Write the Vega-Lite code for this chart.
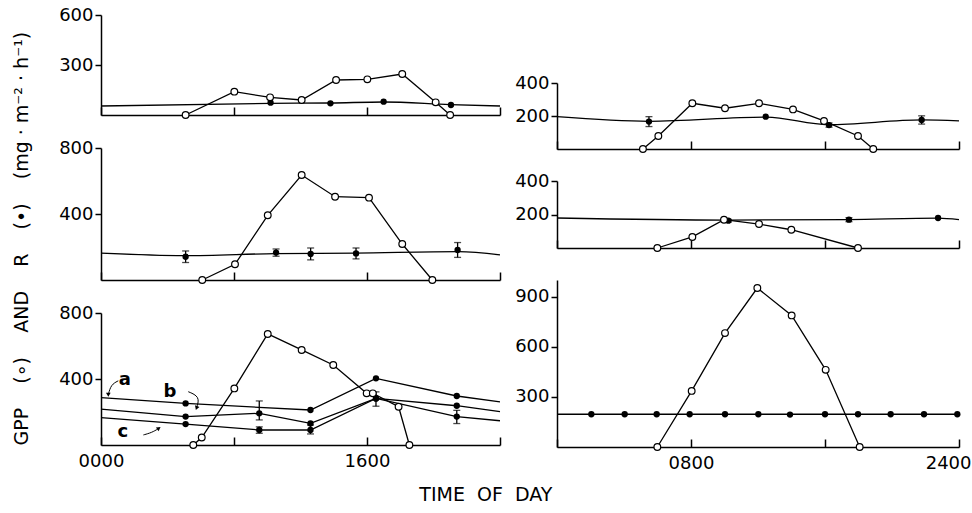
{
  "$schema": "https://vega.github.io/schema/vega-lite/v6.json",
  "padding": {"left": 12, "top": 6, "right": 0, "bottom": 8},
  "spacing": 11,
  "title": {"text": "TIME\u00a0\u00a0OF\u00a0\u00a0DAY", "orient": "bottom", "anchor": "middle", "frame": "bounds", "fontSize": 19, "fontWeight": "normal", "font": "DejaVu Sans", "color": "black", "offset": 14, "dx": -6},
  "resolve": {"scale": {"x": "independent", "y": "independent"}},
  "datasets": {
    "gpp": [
      {"p": "I", "h": 5.09, "v": 0}, {"p": "I", "h": 8.02, "v": 140}, {"p": "I", "h": 10.17, "v": 106}, {"p": "I", "h": 12.07, "v": 90}, {"p": "I", "h": 14.14, "v": 210}, {"p": "I", "h": 16.02, "v": 214}, {"p": "I", "h": 18.12, "v": 246}, {"p": "I", "h": 20.13, "v": 76}, {"p": "I", "h": 21.0, "v": 0},
      {"p": "II", "h": 6.09, "v": 0}, {"p": "II", "h": 8.06, "v": 95}, {"p": "II", "h": 10.03, "v": 392}, {"p": "II", "h": 12.07, "v": 636}, {"p": "II", "h": 14.08, "v": 505}, {"p": "II", "h": 16.12, "v": 499}, {"p": "II", "h": 18.12, "v": 218}, {"p": "II", "h": 19.93, "v": 0},
      {"p": "III", "h": 5.55, "v": 0}, {"p": "III", "h": 6.06, "v": 45}, {"p": "III", "h": 8.02, "v": 343}, {"p": "III", "h": 10.03, "v": 673}, {"p": "III", "h": 12.07, "v": 576}, {"p": "III", "h": 13.97, "v": 485}, {"p": "III", "h": 15.98, "v": 313}, {"p": "III", "h": 16.35, "v": 313}, {"p": "III", "h": 17.9, "v": 232}, {"p": "III", "h": 18.55, "v": 0},
      {"p": "IV", "h": 5.13, "v": 0}, {"p": "IV", "h": 6.05, "v": 79}, {"p": "IV", "h": 8.08, "v": 277}, {"p": "IV", "h": 10.03, "v": 247}, {"p": "IV", "h": 12.06, "v": 277}, {"p": "IV", "h": 14.09, "v": 240}, {"p": "IV", "h": 15.94, "v": 170}, {"p": "IV", "h": 17.97, "v": 79}, {"p": "IV", "h": 18.88, "v": 0},
      {"p": "V", "h": 5.99, "v": 0}, {"p": "V", "h": 8.08, "v": 66}, {"p": "V", "h": 9.97, "v": 169}, {"p": "V", "h": 12.06, "v": 143}, {"p": "V", "h": 13.99, "v": 109}, {"p": "V", "h": 17.97, "v": 0},
      {"p": "VII", "h": 5.99, "v": 0}, {"p": "VII", "h": 8.04, "v": 336}, {"p": "VII", "h": 10.03, "v": 682}, {"p": "VII", "h": 11.96, "v": 952}, {"p": "VII", "h": 14.01, "v": 788}, {"p": "VII", "h": 16.04, "v": 462}, {"p": "VII", "h": 18.07, "v": 0}
    ],
    "rpt": [
      {"p": "I", "s": "r", "h": 10.2, "v": 74, "lo": null, "hi": null}, {"p": "I", "s": "r", "h": 13.8, "v": 70, "lo": null, "hi": null}, {"p": "I", "s": "r", "h": 17.0, "v": 80, "lo": null, "hi": null}, {"p": "I", "s": "r", "h": 21.05, "v": 60, "lo": null, "hi": null},
      {"p": "II", "s": "r", "h": 5.09, "v": 141, "lo": 106, "hi": 176}, {"p": "II", "s": "r", "h": 10.53, "v": 166, "lo": 144, "hi": 188}, {"p": "II", "s": "r", "h": 12.61, "v": 158, "lo": 122, "hi": 194}, {"p": "II", "s": "r", "h": 15.34, "v": 161, "lo": 128, "hi": 194}, {"p": "II", "s": "r", "h": 21.45, "v": 182, "lo": 137, "hi": 227},
      {"p": "III", "s": "a", "h": 5.09, "v": 252, "lo": null, "hi": null}, {"p": "III", "s": "a", "h": 12.6, "v": 212, "lo": null, "hi": null}, {"p": "III", "s": "a", "h": 16.54, "v": 404, "lo": null, "hi": null}, {"p": "III", "s": "a", "h": 21.4, "v": 297, "lo": null, "hi": null},
      {"p": "III", "s": "b", "h": 5.09, "v": 172, "lo": null, "hi": null}, {"p": "III", "s": "b", "h": 9.52, "v": 192, "lo": 152, "hi": 267}, {"p": "III", "s": "b", "h": 12.6, "v": 131, "lo": null, "hi": null}, {"p": "III", "s": "b", "h": 16.54, "v": 282, "lo": 235, "hi": 322}, {"p": "III", "s": "b", "h": 21.4, "v": 238, "lo": null, "hi": null},
      {"p": "III", "s": "c", "h": 5.09, "v": 127, "lo": null, "hi": null}, {"p": "III", "s": "c", "h": 9.52, "v": 91, "lo": 71, "hi": 110}, {"p": "III", "s": "c", "h": 12.6, "v": 91, "lo": 67, "hi": 121}, {"p": "III", "s": "c", "h": 16.54, "v": 282, "lo": null, "hi": null}, {"p": "III", "s": "c", "h": 21.4, "v": 172, "lo": 130, "hi": 210},
      {"p": "IV", "s": "r", "h": 5.49, "v": 166, "lo": 136, "hi": 196}, {"p": "IV", "s": "r", "h": 12.46, "v": 196, "lo": null, "hi": null}, {"p": "IV", "s": "r", "h": 16.24, "v": 145, "lo": 132, "hi": 158}, {"p": "IV", "s": "r", "h": 21.77, "v": 176, "lo": 151, "hi": 201},
      {"p": "V", "s": "r", "h": 10.23, "v": 163, "lo": 155, "hi": 171}, {"p": "V", "s": "r", "h": 17.43, "v": 169, "lo": 157, "hi": 181}, {"p": "V", "s": "r", "h": 22.75, "v": 179, "lo": null, "hi": null},
      {"p": "VII", "s": "r", "h": 2.05, "v": 196, "lo": null, "hi": null}, {"p": "VII", "s": "r", "h": 4.04, "v": 196, "lo": null, "hi": null}, {"p": "VII", "s": "r", "h": 5.95, "v": 196, "lo": null, "hi": null}, {"p": "VII", "s": "r", "h": 7.92, "v": 196, "lo": null, "hi": null}, {"p": "VII", "s": "r", "h": 10.03, "v": 196, "lo": null, "hi": null}, {"p": "VII", "s": "r", "h": 12.02, "v": 196, "lo": null, "hi": null}, {"p": "VII", "s": "r", "h": 13.91, "v": 194, "lo": null, "hi": null}, {"p": "VII", "s": "r", "h": 16.0, "v": 196, "lo": null, "hi": null}, {"p": "VII", "s": "r", "h": 17.97, "v": 196, "lo": null, "hi": null}, {"p": "VII", "s": "r", "h": 19.92, "v": 196, "lo": null, "hi": null}, {"p": "VII", "s": "r", "h": 21.91, "v": 196, "lo": null, "hi": null}, {"p": "VII", "s": "r", "h": 23.9, "v": 196, "lo": null, "hi": null}
    ],
    "rfit": [
      {"p": "I", "s": "r", "h": 0, "v": 54}, {"p": "I", "s": "r", "h": 10.2, "v": 70}, {"p": "I", "s": "r", "h": 13.8, "v": 72}, {"p": "I", "s": "r", "h": 17, "v": 78}, {"p": "I", "s": "r", "h": 21, "v": 62}, {"p": "I", "s": "r", "h": 24, "v": 54},
      {"p": "II", "s": "r", "h": 0, "v": 163}, {"p": "II", "s": "r", "h": 5, "v": 148}, {"p": "II", "s": "r", "h": 10.5, "v": 160}, {"p": "II", "s": "r", "h": 15.3, "v": 163}, {"p": "II", "s": "r", "h": 21.5, "v": 172}, {"p": "II", "s": "r", "h": 24, "v": 152},
      {"p": "III", "s": "a", "h": 0, "v": 287}, {"p": "III", "s": "a", "h": 5.09, "v": 252}, {"p": "III", "s": "a", "h": 12.6, "v": 212}, {"p": "III", "s": "a", "h": 16.54, "v": 404}, {"p": "III", "s": "a", "h": 21.4, "v": 297}, {"p": "III", "s": "a", "h": 24, "v": 262},
      {"p": "III", "s": "b", "h": 0, "v": 218}, {"p": "III", "s": "b", "h": 5.09, "v": 172}, {"p": "III", "s": "b", "h": 9.52, "v": 192}, {"p": "III", "s": "b", "h": 12.6, "v": 131}, {"p": "III", "s": "b", "h": 16.54, "v": 282}, {"p": "III", "s": "b", "h": 21.4, "v": 238}, {"p": "III", "s": "b", "h": 24, "v": 202},
      {"p": "III", "s": "c", "h": 0, "v": 166}, {"p": "III", "s": "c", "h": 5.09, "v": 127}, {"p": "III", "s": "c", "h": 9.52, "v": 91}, {"p": "III", "s": "c", "h": 12.6, "v": 91}, {"p": "III", "s": "c", "h": 16.54, "v": 282}, {"p": "III", "s": "c", "h": 21.4, "v": 172}, {"p": "III", "s": "c", "h": 24, "v": 147},
      {"p": "IV", "s": "r", "h": 0, "v": 196}, {"p": "IV", "s": "r", "h": 5.5, "v": 168}, {"p": "IV", "s": "r", "h": 12.5, "v": 193}, {"p": "IV", "s": "r", "h": 16.2, "v": 147}, {"p": "IV", "s": "r", "h": 21.8, "v": 176}, {"p": "IV", "s": "r", "h": 24, "v": 170},
      {"p": "V", "s": "r", "h": 0, "v": 179}, {"p": "V", "s": "r", "h": 10.2, "v": 167}, {"p": "V", "s": "r", "h": 17.4, "v": 170}, {"p": "V", "s": "r", "h": 22.75, "v": 178}, {"p": "V", "s": "r", "h": 24, "v": 169},
      {"p": "VII", "s": "r", "h": 0, "v": 196}, {"p": "VII", "s": "r", "h": 24, "v": 196}
    ],
    "note": [
      {"t": "a", "h": 1.44, "v": 394}, {"t": "b", "h": 4.15, "v": 321}, {"t": "c", "h": 1.32, "v": 79}
    ],
    "arrow": [
      {"s": "a", "k": 1, "h": 1.04, "v": 389}, {"s": "a", "k": 2, "h": 0.6, "v": 366}, {"s": "a", "k": 3, "h": 0.44, "v": 305},
      {"s": "b", "k": 1, "h": 5.25, "v": 323}, {"s": "b", "k": 2, "h": 5.95, "v": 293}, {"s": "b", "k": 3, "h": 5.76, "v": 228},
      {"s": "c", "k": 1, "h": 2.55, "v": 61}, {"s": "c", "k": 2, "h": 3.05, "v": 75}, {"s": "c", "k": 3, "h": 3.45, "v": 99}
    ]
  },
  "hconcat": [
    {
      "bounds": "flush",
      "spacing": 33,
      "resolve": {"scale": {"x": "independent", "y": "independent"}},
      "vconcat": [
        {
          "width": 399, "height": 100,
          "encoding": {
            "x": {"field": "h", "type": "quantitative", "scale": {"domain": [0, 24], "nice": false}, "axis": {"values": [0, 8, 16, 24], "labels": false, "tickSize": -8, "title": null}},
            "y": {"field": "v", "type": "quantitative", "scale": {"domain": [0, 600], "nice": false}, "axis": {"values": [300, 600], "tickSize": 6, "labelPadding": 2, "title": null}}
          },
          "layer": [
            {"data": {"name": "rfit"}, "transform": [{"filter": "datum.p === 'I'"}], "mark": {"type": "line", "interpolate": "monotone"}},
            {"data": {"name": "gpp"}, "transform": [{"filter": "datum.p === 'I'"}], "mark": {"type": "line"}},
            {"data": {"name": "rpt"}, "transform": [{"filter": "datum.p === 'I'"}], "mark": {"type": "point", "filled": true, "size": 40, "opacity": 1}},
            {"data": {"name": "gpp"}, "transform": [{"filter": "datum.p === 'I'"}], "mark": {"type": "point", "fill": "white", "stroke": "black", "strokeWidth": 1.2, "size": 45, "opacity": 1}},
            {"data": {"values": [{}]}, "mark": {"type": "text", "align": "left", "baseline": "middle", "fontSize": 18}, "encoding": {"x": {"datum": 16.6}, "y": {"datum": 378}, "text": {"value": "DIEL\u00a0\u00a0\u00a0I"}}}
          ]
        },
        {
          "width": 399, "height": 132,
          "encoding": {
            "x": {"field": "h", "type": "quantitative", "scale": {"domain": [0, 24], "nice": false}, "axis": {"values": [0, 8, 16, 24], "labels": false, "tickSize": -8, "title": null}},
            "y": {"field": "v", "type": "quantitative", "scale": {"domain": [0, 800], "nice": false}, "axis": {"values": [400, 800], "tickSize": 6, "labelPadding": 2, "title": null}}
          },
          "layer": [
            {"data": {"name": "rfit"}, "transform": [{"filter": "datum.p === 'II'"}], "mark": {"type": "line", "interpolate": "monotone"}},
            {"data": {"name": "gpp"}, "transform": [{"filter": "datum.p === 'II'"}], "mark": {"type": "line"}},
            {"data": {"name": "rpt"}, "transform": [{"filter": "datum.p === 'II' && datum.lo != null"}], "mark": {"type": "errorbar", "ticks": {"size": 7}, "color": "black", "thickness": 1.3}, "encoding": {"y": {"field": "lo", "type": "quantitative", "title": null}, "y2": {"field": "hi"}}},
            {"data": {"name": "rpt"}, "transform": [{"filter": "datum.p === 'II'"}], "mark": {"type": "point", "filled": true, "size": 40, "opacity": 1}},
            {"data": {"name": "gpp"}, "transform": [{"filter": "datum.p === 'II'"}], "mark": {"type": "point", "fill": "white", "stroke": "black", "strokeWidth": 1.2, "size": 45, "opacity": 1}},
            {"data": {"values": [{}]}, "mark": {"type": "text", "align": "left", "baseline": "middle", "fontSize": 18}, "encoding": {"x": {"datum": 16.54}, "y": {"datum": 606}, "text": {"value": "DIEL\u00a0\u00a0\u00a0II"}}}
          ]
        },
        {
          "width": 399, "height": 132,
          "encoding": {
            "x": {"field": "h", "type": "quantitative", "scale": {"domain": [0, 24], "nice": false}, "axis": {"values": [0, 8, 16, 24], "tickSize": -8, "labelPadding": 15, "title": null, "labelExpr": "datum.value === 0 ? '0000' : datum.value === 16 ? '1600' : ''"}},
            "y": {"field": "v", "type": "quantitative", "scale": {"domain": [0, 800], "nice": false}, "axis": {"values": [400, 800], "tickSize": 6, "labelPadding": 2, "title": "GPP\u00a0\u00a0\u00a0\u00a0(∘)\u00a0\u00a0\u00a0\u00a0AND\u00a0\u00a0\u00a0\u00a0R\u00a0\u00a0\u00a0\u00a0(•)\u00a0\u00a0\u00a0\u00a0(mg\u00a0·\u00a0m⁻²\u00a0·\u00a0h⁻¹)", "titleAnchor": "start", "titlePadding": 27, "titleFontSize": 19}}
          },
          "layer": [
            {"data": {"name": "rfit"}, "transform": [{"filter": "datum.p === 'III'"}], "mark": {"type": "line"}, "encoding": {"detail": {"field": "s"}}},
            {"data": {"name": "gpp"}, "transform": [{"filter": "datum.p === 'III'"}], "mark": {"type": "line"}},
            {"data": {"name": "arrow"}, "mark": {"type": "line", "interpolate": "basis", "strokeWidth": 1}, "encoding": {"detail": {"field": "s"}, "order": {"field": "k"}}},
            {"data": {"name": "arrow"}, "transform": [{"filter": "datum.k === 3 && datum.s === 'a'"}], "mark": {"type": "point", "shape": "triangle-down", "filled": true, "size": 22, "opacity": 1}},
            {"data": {"name": "arrow"}, "transform": [{"filter": "datum.k === 3 && datum.s === 'b'"}], "mark": {"type": "point", "shape": "triangle", "angle": 200, "filled": true, "size": 22, "opacity": 1}},
            {"data": {"name": "arrow"}, "transform": [{"filter": "datum.k === 3 && datum.s === 'c'"}], "mark": {"type": "point", "shape": "triangle", "angle": 55, "filled": true, "size": 22, "opacity": 1}},
            {"data": {"name": "note"}, "mark": {"type": "text", "align": "center", "baseline": "middle", "fontSize": 18, "fontWeight": "bold"}, "encoding": {"text": {"field": "t"}}},
            {"data": {"name": "rpt"}, "transform": [{"filter": "datum.p === 'III' && datum.lo != null"}], "mark": {"type": "errorbar", "ticks": {"size": 7}, "color": "black", "thickness": 1.3}, "encoding": {"y": {"field": "lo", "type": "quantitative", "title": null}, "y2": {"field": "hi"}}},
            {"data": {"name": "rpt"}, "transform": [{"filter": "datum.p === 'III'"}], "mark": {"type": "point", "filled": true, "size": 40, "opacity": 1}},
            {"data": {"name": "gpp"}, "transform": [{"filter": "datum.p === 'III'"}], "mark": {"type": "point", "fill": "white", "stroke": "black", "strokeWidth": 1.2, "size": 45, "opacity": 1}},
            {"data": {"values": [{}]}, "mark": {"type": "text", "align": "left", "baseline": "middle", "fontSize": 18}, "encoding": {"x": {"datum": 16.54}, "y": {"datum": 648}, "text": {"value": "DIEL\u00a0\u00a0\u00a0III"}}}
          ]
        }
      ]
    },
    {
      "bounds": "flush",
      "spacing": 32,
      "resolve": {"scale": {"x": "independent", "y": "independent"}},
      "vconcat": [
        {"width": 402, "height": 36, "data": {"values": []}, "mark": {"type": "point", "opacity": 0}, "encoding": {}, "view": {"fill": "white", "stroke": null}},
        {
          "width": 402, "height": 66,
          "encoding": {
            "x": {"field": "h", "type": "quantitative", "scale": {"domain": [0, 24], "nice": false}, "axis": {"values": [0, 8, 16, 24], "labels": false, "tickSize": -8, "title": null}},
            "y": {"field": "v", "type": "quantitative", "scale": {"domain": [0, 400], "nice": false}, "axis": {"values": [200, 400], "tickSize": 6, "labelPadding": 2, "title": null}}
          },
          "layer": [
            {"data": {"name": "rfit"}, "transform": [{"filter": "datum.p === 'IV'"}], "mark": {"type": "line", "interpolate": "monotone"}},
            {"data": {"name": "gpp"}, "transform": [{"filter": "datum.p === 'IV'"}], "mark": {"type": "line"}},
            {"data": {"name": "rpt"}, "transform": [{"filter": "datum.p === 'IV' && datum.lo != null"}], "mark": {"type": "errorbar", "ticks": {"size": 7}, "color": "black", "thickness": 1.3}, "encoding": {"y": {"field": "lo", "type": "quantitative", "title": null}, "y2": {"field": "hi"}}},
            {"data": {"name": "rpt"}, "transform": [{"filter": "datum.p === 'IV'"}], "mark": {"type": "point", "filled": true, "size": 40, "opacity": 1}},
            {"data": {"name": "gpp"}, "transform": [{"filter": "datum.p === 'IV'"}], "mark": {"type": "point", "fill": "white", "stroke": "black", "strokeWidth": 1.2, "size": 45, "opacity": 1}},
            {"data": {"values": [{}]}, "mark": {"type": "text", "align": "left", "baseline": "middle", "fontSize": 18}, "encoding": {"x": {"datum": 16.36}, "y": {"datum": 388}, "text": {"value": "DIEL\u00a0\u00a0\u00a0IV"}}}
          ]
        },
        {
          "width": 402, "height": 67,
          "encoding": {
            "x": {"field": "h", "type": "quantitative", "scale": {"domain": [0, 24], "nice": false}, "axis": {"values": [0, 8, 16, 24], "labels": false, "tickSize": -8, "title": null}},
            "y": {"field": "v", "type": "quantitative", "scale": {"domain": [0, 400], "nice": false}, "axis": {"values": [200, 400], "tickSize": 6, "labelPadding": 2, "title": null}}
          },
          "layer": [
            {"data": {"name": "rfit"}, "transform": [{"filter": "datum.p === 'V'"}], "mark": {"type": "line", "interpolate": "monotone"}},
            {"data": {"name": "gpp"}, "transform": [{"filter": "datum.p === 'V'"}], "mark": {"type": "line"}},
            {"data": {"name": "rpt"}, "transform": [{"filter": "datum.p === 'V' && datum.lo != null"}], "mark": {"type": "errorbar", "ticks": {"size": 7}, "color": "black", "thickness": 1.3}, "encoding": {"y": {"field": "lo", "type": "quantitative", "title": null}, "y2": {"field": "hi"}}},
            {"data": {"name": "rpt"}, "transform": [{"filter": "datum.p === 'V'"}], "mark": {"type": "point", "filled": true, "size": 40, "opacity": 1}},
            {"data": {"name": "gpp"}, "transform": [{"filter": "datum.p === 'V'"}], "mark": {"type": "point", "fill": "white", "stroke": "black", "strokeWidth": 1.2, "size": 45, "opacity": 1}},
            {"data": {"values": [{}]}, "mark": {"type": "text", "align": "left", "baseline": "middle", "fontSize": 18}, "encoding": {"x": {"datum": 16.36}, "y": {"datum": 340}, "text": {"value": "DIEL\u00a0\u00a0\u00a0V"}}}
          ]
        },
        {
          "width": 402, "height": 167,
          "encoding": {
            "x": {"field": "h", "type": "quantitative", "scale": {"domain": [0, 24], "nice": false}, "axis": {"values": [0, 8, 16, 24], "tickSize": -8, "labelPadding": 15, "title": null, "labelExpr": "datum.value === 8 ? '0800' : datum.value === 24 ? '2400' : ''", "labelAlign": {"condition": {"test": "datum.value === 24", "value": "right"}, "value": "center"}, "labelOffset": {"condition": {"test": "datum.value === 24", "value": 12}, "value": 0}}},
            "y": {"field": "v", "type": "quantitative", "scale": {"domain": [0, 1000], "nice": false}, "axis": {"values": [300, 600, 900], "tickSize": 6, "labelPadding": 2, "title": null}}
          },
          "layer": [
            {"data": {"name": "rfit"}, "transform": [{"filter": "datum.p === 'VII'"}], "mark": {"type": "line"}},
            {"data": {"name": "gpp"}, "transform": [{"filter": "datum.p === 'VII'"}], "mark": {"type": "line"}},
            {"data": {"name": "rpt"}, "transform": [{"filter": "datum.p === 'VII'"}], "mark": {"type": "point", "filled": true, "size": 40, "opacity": 1}},
            {"data": {"name": "gpp"}, "transform": [{"filter": "datum.p === 'VII'"}], "mark": {"type": "point", "fill": "white", "stroke": "black", "strokeWidth": 1.2, "size": 45, "opacity": 1}},
            {"data": {"values": [{}]}, "mark": {"type": "text", "align": "left", "baseline": "middle", "fontSize": 18}, "encoding": {"x": {"datum": 16.36}, "y": {"datum": 822}, "text": {"value": "DIEL\u00a0\u00a0\u00a0VII"}}}
          ]
        }
      ]
    }
  ],
  "config": {
    "view": {"stroke": null},
    "font": "DejaVu Sans",
    "background": "white",
    "text": {"color": "black", "font": "DejaVu Sans"},
    "line": {"color": "black", "strokeWidth": 1.3},
    "point": {"color": "black"},
    "axis": {
      "domainColor": "black", "domainWidth": 1.5, "tickColor": "black", "tickWidth": 1.5,
      "labelColor": "black", "labelFont": "DejaVu Sans", "labelFontSize": 18,
      "titleColor": "black", "titleFont": "DejaVu Sans", "titleFontSize": 18, "titleFontWeight": "normal",
      "grid": false, "labelFlush": false, "labelOverlap": false
    }
  }
}
